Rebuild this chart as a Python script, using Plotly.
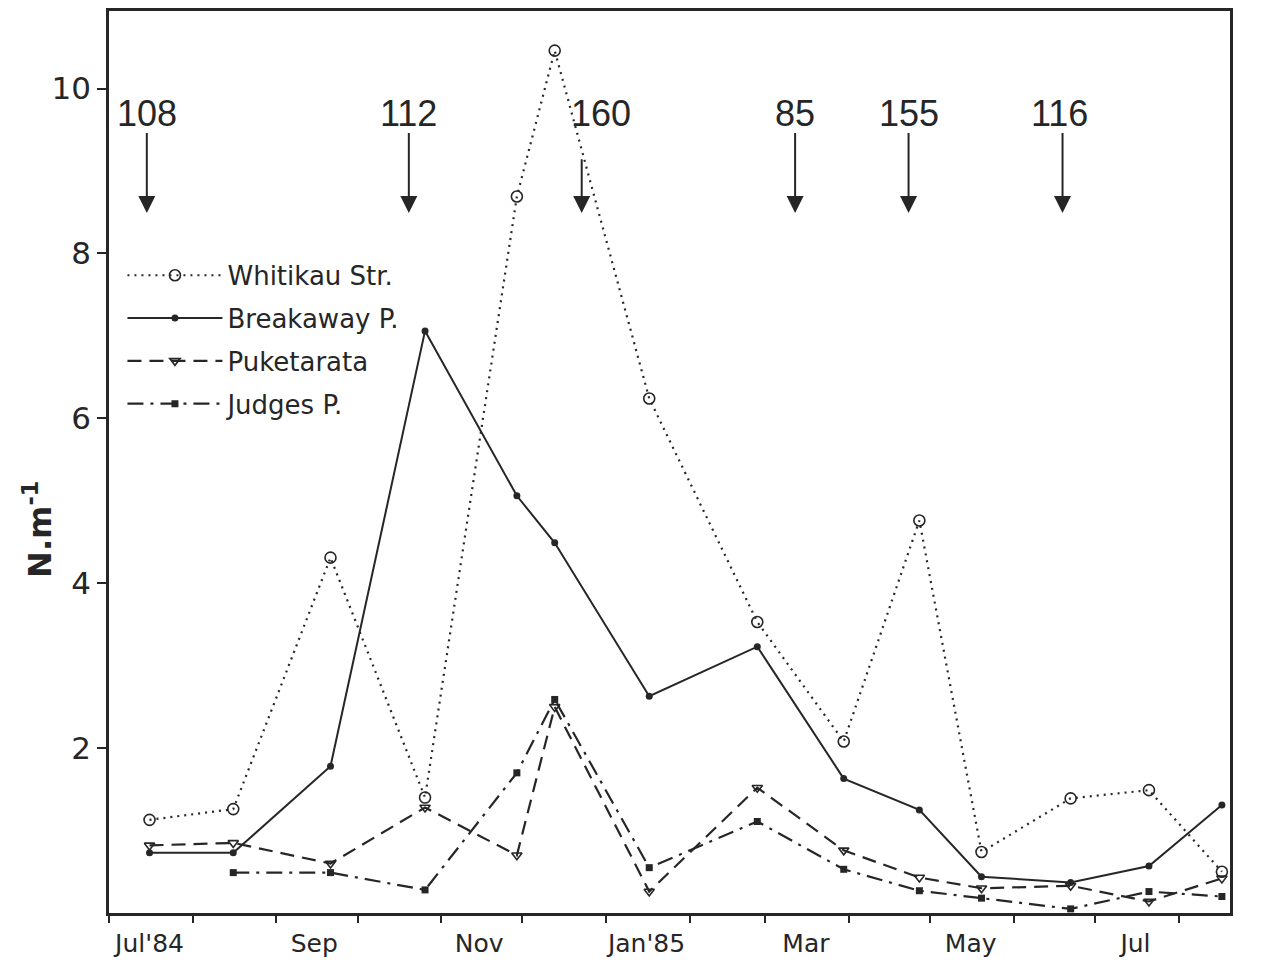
import plotly.graph_objects as go

# ---------------- data ----------------
sample_dates = ["1984-07-16", "1984-08-16", "1984-09-21", "1984-10-26", "1984-11-29",
                "1984-12-13", "1985-01-17", "1985-02-26", "1985-03-30", "1985-04-27",
                "1985-05-20", "1985-06-22", "1985-07-21", "1985-08-17"]

whitikau = [1.13, 1.26, 4.31, 1.40, 8.69, 10.46, 6.24, 3.53, 2.08, 4.76, 0.74, 1.39, 1.49, 0.50]
breakaway = [0.73, 0.73, 1.78, 7.06, 5.06, 4.49, 2.63, 3.23, 1.63, 1.25, 0.44, 0.37, 0.57, 1.31]
puketarata = [0.82, 0.85, 0.60, 1.28, 0.70, 2.50, 0.26, 1.52, 0.76, 0.43, 0.30, 0.33, 0.14, 0.42]
judges = [None, 0.49, 0.49, 0.28, 1.70, 2.59, 0.55, 1.11, 0.53, 0.27, 0.18, 0.05, 0.26, 0.20]

series_names = ["Whitikau Str.", "Breakaway P.", "Puketarata", "Judges P."]

# arrow events (number shown above each arrow)
event_dates = ["1984-07-15", "1984-10-20", "1984-12-23", "1985-03-12", "1985-04-23", "1985-06-19"]
event_labels = ["108", "112", "160", "85", "155", "116"]
event_label_dates = ["1984-07-15", "1984-10-20", "1984-12-30", "1985-03-12", "1985-04-23", "1985-06-18"]
event_tail_values = [9.48, 9.48, 9.16, 9.48, 9.48, 9.48]
event_tip_value = 8.49
event_label_value = 9.70

tick_dates = ["1984-07-16", "1984-09-15", "1984-11-15", "1985-01-16", "1985-03-16",
              "1985-05-16", "1985-07-16"]
tick_labels = ["Jul'84", "Sep", "Nov", "Jan'85", "Mar", "May", "Jul"]
y_ticks = [2, 4, 6, 8, 10]

INK = "#262626"

fig = go.Figure()

fig.add_trace(go.Scatter(
    x=sample_dates, y=whitikau, name=series_names[0], mode="lines+markers", legendgroup="a",
    line=dict(color=INK, width=2.2, dash="2px,5px"),
    marker=dict(symbol="circle-open", size=11, color=INK, line=dict(width=1.6)),
))
fig.add_trace(go.Scatter(
    x=sample_dates, y=breakaway, name=series_names[1], mode="lines+markers", legendgroup="b",
    line=dict(color=INK, width=2),
    marker=dict(symbol="circle", size=7, color=INK),
))
fig.add_trace(go.Scatter(
    x=sample_dates, y=puketarata, name=series_names[2], mode="lines+markers", legendgroup="c",
    line=dict(color=INK, width=2.2, dash="14px,8px"),
    marker=dict(symbol="triangle-down-open", size=9, color=INK, line=dict(width=1.6)),
))
fig.add_trace(go.Scatter(
    x=sample_dates, y=judges, name=series_names[3], mode="lines+markers", legendgroup="d",
    line=dict(color=INK, width=2.2, dash="16px,7px,3px,7px"),
    marker=dict(symbol="square", size=7, color=INK),
))

annotations = []
for d, ld, lab, tail in zip(event_dates, event_label_dates, event_labels, event_tail_values):
    annotations.append(dict(
        x=d, y=event_tip_value, xref="x", yref="y", ax=d, ay=tail, axref="x", ayref="y",
        text="", showarrow=True, arrowhead=2, arrowsize=1.7, arrowwidth=2,
        arrowcolor=INK,
    ))
    annotations.append(dict(
        x=ld, y=event_label_value, xref="x", yref="y", text=lab, showarrow=False,
        font=dict(family="Liberation Sans", size=36, color=INK),
        xanchor="center", yanchor="middle",
    ))

annotations.append(dict(
    x=-0.064, y=0.425, xref="paper", yref="paper", text="N.m<sup>-1</sup>",
    textangle=-90, showarrow=False,
    font=dict(family="DejaVu Sans", size=32, color=INK, weight="bold"),
    xanchor="center", yanchor="middle",
))

fig.update_layout(
    width=1273, height=966,
    margin=dict(l=109, r=43, t=8, b=41),
    paper_bgcolor="white", plot_bgcolor="white",
    showlegend=True,
    legend=dict(
        x=0.012, y=0.733, xanchor="left", yanchor="top",
        font=dict(family="DejaVu Sans", size=26, color=INK),
        bgcolor="rgba(0,0,0,0)", itemwidth=95, tracegroupgap=6,
    ),
    annotations=annotations,
    xaxis=dict(
        type="date", range=["1984-07-01", "1985-08-20"],
        showgrid=False, zeroline=False,
        showline=True, linecolor=INK, linewidth=2.5, mirror=True,
        tickmode="array", tickvals=tick_dates, ticktext=tick_labels,
        ticks="", ticklabelstandoff=6,
        tickfont=dict(family="DejaVu Sans", size=25, color=INK),
        minor=dict(ticks="outside", tickmode="linear", tick0="1984-07-01", dtick="M1",
                   ticklen=7, tickwidth=2, tickcolor=INK, showgrid=False),
    ),
    yaxis=dict(
        range=[0, 10.94], showgrid=False, zeroline=False,
        showline=True, linecolor=INK, linewidth=2.5, mirror=True,
        tickmode="array", tickvals=y_ticks,
        ticks="outside", ticklen=9, tickwidth=2, tickcolor=INK,
        tickfont=dict(family="DejaVu Sans", size=31, color=INK),
    ),
)

fig.write_html(
    "out.html",
    config={"displayModeBar": False},
    post_script="document.body.style.margin='0';document.body.style.overflow='hidden';",
)
